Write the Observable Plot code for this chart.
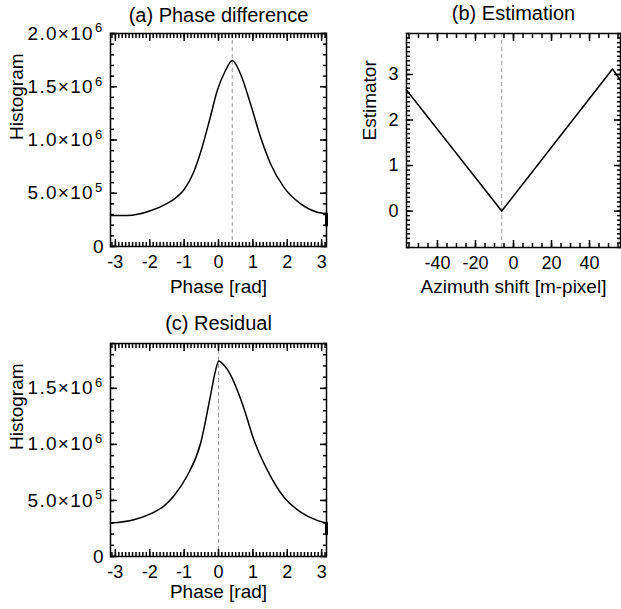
<!DOCTYPE html>
<html><head><meta charset="utf-8">
<script src="https://cdn.jsdelivr.net/npm/d3@7"></script>
<script src="https://cdn.jsdelivr.net/npm/@observablehq/plot@0.6"></script>
<style>
html,body{margin:0;padding:0;background:#fff;}
#wrap{position:relative;width:621px;height:609px;overflow:hidden;background:#fff;}
#wrap > div{position:absolute;}
</style></head><body>
<div id="wrap"><div id="pa" style="left:0;top:0"></div><div id="pb" style="left:330px;top:0"></div><div id="pc" style="left:0;top:300px"></div></div>
<script>
const PI = Math.PI;

// Panel (a) Phase difference
const titleA = "(a) Phase difference";
const phaseA = [-PI, -2.66, -1.98, -1.49, -1.25, -1.01, -0.72, -0.52, -0.25, -0.04, 0.2, 0.40, 0.64, 0.93, 1.22, 1.51, 1.90, 2.39, 2.87, PI];
const histA = [0.29e6, 0.29e6, 0.335e6, 0.405e6, 0.455e6, 0.53e6, 0.70e6, 0.885e6, 1.20e6, 1.46e6, 1.65e6, 1.746e6, 1.62e6, 1.34e6, 1.03e6, 0.78e6, 0.557e6, 0.40e6, 0.322e6, 0.307e6];
const edgeA = [0.307e6, 0.20e6];
const peakA = [0.40];

// Panel (b) Estimation
const titleB = "(b) Estimation";
const shiftB = [-56.3, -6.2, 52.1, 56.3];
const estB = [2.66, 0, 3.12, 2.87];
const minB = [-6.2];

// Panel (c) Residual
const titleC = "(c) Residual";
const phaseC = [-PI, -2.46, -1.98, -1.59, -1.30, -0.91, -0.52, -0.23, -0.1, 0.01, 0.15, 0.35, 0.55, 0.74, 1.03, 1.42, 1.90, 2.39, 2.87, PI];
const histC = [0.298e6, 0.328e6, 0.38e6, 0.45e6, 0.54e6, 0.72e6, 1.01e6, 1.44e6, 1.64e6, 1.745e6, 1.71e6, 1.62e6, 1.48e6, 1.32e6, 1.04e6, 0.77e6, 0.53e6, 0.396e6, 0.322e6, 0.298e6];
const edgeC = [0.298e6, 0.20e6];
const peakC = [0];

// Ticks and labels
const phaseTicks = [-3, -2, -1, 0, 1, 2, 3];
const phaseTickLabels = ["-3", "-2", "-1", "0", "1", "2", "3"];
const histTicksA = [0, 5e5, 1e6, 1.5e6, 2e6];
const histTickLabelsA = ["0", "5.0×10^5", "1.0×10^6", "1.5×10^6", "2.0×10^6"];
const histTicksC = [0, 5e5, 1e6, 1.5e6];
const histTickLabelsC = ["0", "5.0×10^5", "1.0×10^6", "1.5×10^6"];
const shiftTicks = [-40, -20, 0, 20, 40];
const shiftTickLabels = ["-40", "-20", "0", "20", "40"];
const estTicks = [0, 1, 2, 3];
const estTickLabels = ["0", "1", "2", "3"];

const FONT = "'Liberation Sans', Arial, Helvetica, sans-serif";

function fmt(ticks, labels) {
  const m = new Map(ticks.map((t, i) => [t, labels[i]]));
  return d => m.has(d) ? m.get(d) : "";
}

// inward ticks on all four sides (negative tick length points into the frame)
function box(xMaj, xMin, yMaj, yMin) {
  const o = {fill: "none", label: null, stroke: "black", strokeWidth: 1.5};
  return [
    Plot.axisX(xMaj, {...o, anchor: "bottom", tickSize: -7}),
    Plot.axisX(xMaj, {...o, anchor: "top", tickSize: -7}),
    Plot.axisX(xMin, {...o, anchor: "bottom", tickSize: -4}),
    Plot.axisX(xMin, {...o, anchor: "top", tickSize: -4}),
    Plot.axisY(yMaj, {...o, anchor: "left", tickSize: -7}),
    Plot.axisY(yMaj, {...o, anchor: "right", tickSize: -7}),
    Plot.axisY(yMin, {...o, anchor: "left", tickSize: -4}),
    Plot.axisY(yMin, {...o, anchor: "right", tickSize: -4})
  ];
}

function supers(svg) {
  svg.querySelectorAll("text").forEach(t => {
    const m = t.textContent.match(/^(.*×10)\^(\d+)$/);
    if (m) {
      t.textContent = m[1];
      t.setAttribute("letter-spacing", "1.3");
      const ts = document.createElementNS("http://www.w3.org/2000/svg", "tspan");
      ts.setAttribute("dy", "-0.55em");
      ts.setAttribute("dx", "1");
      ts.setAttribute("font-size", "13");
      ts.textContent = m[2];
      t.appendChild(ts);
    }
  });
  return svg;
}

function histPanel({title, xs, ys, edge, peak, yDomain, yTicks, yLabels, height, mt, mb, xLabDy, titleDy}) {
  const data = xs.map((x, i) => ({x, y: ys[i]}));
  const xMinor = d3.range(-31, 32).map(v => v / 10);
  const yMinor = d3.range(0, Math.floor(yDomain[1] / 1e5) + 1).map(v => v * 1e5);
  return Plot.plot({
    width: 330, height, marginLeft: 110, marginRight: 4, marginTop: mt, marginBottom: mb,
    style: {fontFamily: FONT},
    x: {domain: [-PI, PI]},
    y: {domain: yDomain},
    marks: [
      Plot.ruleX(peak, {stroke: "#9a9a9a", strokeDasharray: "4,3", strokeWidth: 1}),
      Plot.line(data, {x: "x", y: "y", curve: "monotone-x", stroke: "black", strokeWidth: 1.5}),
      Plot.line(edge, {x: () => PI, y: d => d, stroke: "black", strokeWidth: 3}),
      Plot.frame({stroke: "black", strokeWidth: 1.5}),
      ...box(phaseTicks, xMinor, yTicks, yMinor),
      Plot.axisX(phaseTicks, {anchor: "bottom", tickSize: 0, tickPadding: 9, fontSize: 18, label: null, tickFormat: fmt(phaseTicks, phaseTickLabels)}),
      Plot.axisY(yTicks, {anchor: "left", tickSize: 0, tickPadding: 7, fontSize: 19, label: null, tickFormat: fmt(yTicks, yLabels)}),
      Plot.text([title], {text: d => d, frameAnchor: "top", lineAnchor: "middle", dy: titleDy, fontSize: 20}),
      Plot.text(["Phase [rad]"], {text: d => d, frameAnchor: "bottom", lineAnchor: "middle", dy: xLabDy, fontSize: 19}),
      Plot.text(["Histogram"], {text: d => d, frameAnchor: "left", dx: -94, rotate: -90, fontSize: 19})
    ]
  });
}

const pa = histPanel({title: titleA, xs: phaseA, ys: histA, edge: edgeA, peak: peakA, yDomain: [0, 2e6], yTicks: histTicksA, yLabels: histTickLabelsA, height: 300, mt: 33, mb: 54, xLabDy: 40, titleDy: -18});
document.getElementById("pa").appendChild(supers(pa));

const pc = histPanel({title: titleC, xs: phaseC, ys: histC, edge: edgeC, peak: peakC, yDomain: [0, 1.9e6], yTicks: histTicksC, yLabels: histTickLabelsC, height: 309, mt: 43, mb: 53, xLabDy: 35, titleDy: -20});
document.getElementById("pc").appendChild(supers(pc));

const dataB = shiftB.map((x, i) => ({x, y: estB[i]}));
const pb = Plot.plot({
  width: 291, height: 300, marginLeft: 76, marginRight: 1, marginTop: 33, marginBottom: 53,
  style: {fontFamily: FONT},
  x: {domain: [-56.3, 56.3]},
  y: {domain: [-0.8, 3.9]},
  marks: [
    Plot.ruleX(minB, {stroke: "#9a9a9a", strokeDasharray: "4,3", strokeWidth: 1}),
    Plot.line(dataB, {x: "x", y: "y", stroke: "black", strokeWidth: 1.5}),
    Plot.frame({stroke: "black", strokeWidth: 1.5}),
    ...box(shiftTicks, d3.range(-55, 56, 5), estTicks, d3.range(-8, 40).map(v => v / 10)),
    Plot.axisX(shiftTicks, {anchor: "bottom", tickSize: 0, tickPadding: 9, fontSize: 18, label: null, tickFormat: fmt(shiftTicks, shiftTickLabels)}),
    Plot.axisY(estTicks, {anchor: "left", tickSize: 0, tickPadding: 8, fontSize: 18, label: null, tickFormat: fmt(estTicks, estTickLabels)}),
    Plot.text([titleB], {text: d => d, frameAnchor: "top", lineAnchor: "middle", dy: -20, fontSize: 20}),
    Plot.text(["Azimuth shift [m-pixel]"], {text: d => d, frameAnchor: "bottom", lineAnchor: "middle", dy: 39, fontSize: 19}),
    Plot.text(["Estimator"], {text: d => d, frameAnchor: "left", dx: -37, rotate: -90, fontSize: 19})
  ]
});
document.getElementById("pb").appendChild(pb);
</script>
</body></html>
